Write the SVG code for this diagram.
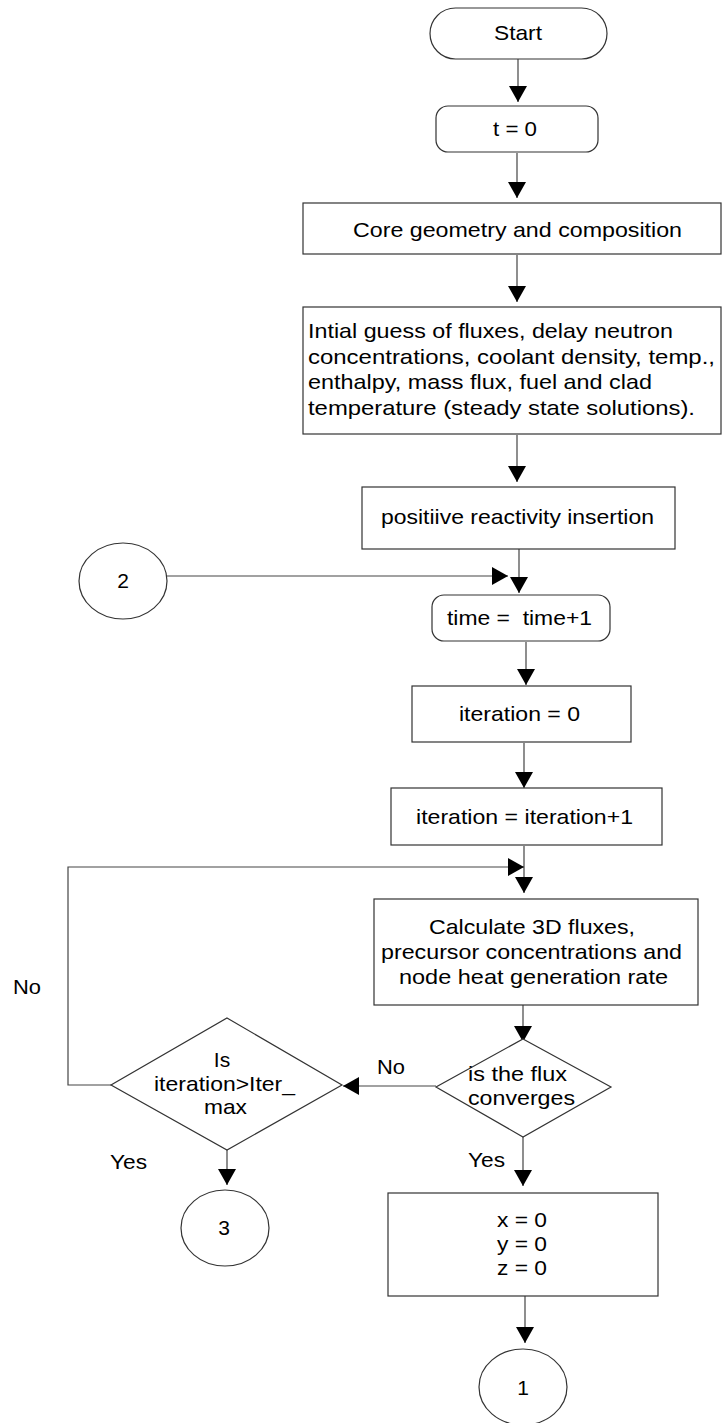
<svg xmlns="http://www.w3.org/2000/svg" width="722" height="1423" viewBox="0 0 722 1423">
<defs>
<marker id="ah" viewBox="0 0 16 18" refX="16" refY="9" markerWidth="16" markerHeight="18" orient="auto" markerUnits="userSpaceOnUse"><path d="M0,0 L16,9 L0,18 z" fill="#000"/></marker>
</defs>
<style>
.box{fill:#fff;stroke:#333;stroke-width:1.2}
.c{fill:none;stroke:#444;stroke-width:1.2;marker-end:url(#ah)}
text{font-family:"Liberation Sans",Arial,sans-serif;font-size:21px;fill:#000}
.m{text-anchor:middle}
</style>
<rect width="722" height="1423" fill="#fff"/>
<g id="connectors">
<path class="c" d="M518,59 L518,102"/>
<path class="c" d="M517,153 L517,198"/>
<path class="c" d="M517,255 L517,302"/>
<path class="c" d="M517,435 L517,482"/>
<path class="c" d="M519,549 L519,593"/>
<path class="c" d="M167,576 L508,576"/>
<path class="c" d="M526,642 L526,685"/>
<path class="c" d="M524,743 L524,788"/>
<path class="c" d="M524,846 L524,893"/>
<path class="c" d="M111,1085 L68,1085 L68,867 L524,867"/>
<path class="c" d="M523,1005 L523,1042"/>
<path class="c" d="M436,1086 L343,1086"/>
<path class="c" d="M523,1137 L523,1186"/>
<path class="c" d="M227,1150 L227,1185"/>
<path class="c" d="M525,1296 L525,1343"/>
</g>
<g id="start"><rect class="box" x="430" y="8" width="177" height="51" rx="25.5"/><text class="m" x="518" y="40" textLength="48" lengthAdjust="spacingAndGlyphs">Start</text></g>
<g id="t0"><rect class="box" x="436" y="106" width="162" height="46" rx="12"/><text class="m" x="515" y="136" textLength="44" lengthAdjust="spacingAndGlyphs">t = 0</text></g>
<g id="core"><rect class="box" x="303" y="203" width="418" height="51"/><text class="m" x="517.5" y="237" textLength="329" lengthAdjust="spacingAndGlyphs">Core geometry and composition</text></g>
<g id="init"><rect class="box" x="303" y="307" width="418" height="127"/>
<text x="308" y="338" textLength="365" lengthAdjust="spacingAndGlyphs">Intial guess of fluxes, delay neutron</text>
<text x="308" y="364" textLength="407" lengthAdjust="spacingAndGlyphs">concentrations, coolant density, temp.,</text>
<text x="308" y="389" textLength="344" lengthAdjust="spacingAndGlyphs">enthalpy, mass flux, fuel and clad</text>
<text x="308" y="415" textLength="387" lengthAdjust="spacingAndGlyphs">temperature (steady state solutions).</text></g>
<g id="positive"><rect class="box" x="362" y="487" width="313" height="62"/><text class="m" x="517.5" y="524" textLength="273" lengthAdjust="spacingAndGlyphs">positiive reactivity insertion</text></g>
<g id="conn2"><ellipse class="box" cx="123" cy="581" rx="44" ry="38"/><text class="m" x="123" y="588">2</text></g>
<g id="time"><rect class="box" x="432" y="595" width="178" height="46" rx="12"/><text class="m" x="519.5" y="625" textLength="145" lengthAdjust="spacingAndGlyphs" xml:space="preserve">time =  time+1</text></g>
<g id="iter0"><rect class="box" x="412" y="686" width="219" height="56"/><text class="m" x="519.5" y="721" textLength="121" lengthAdjust="spacingAndGlyphs">iteration = 0</text></g>
<g id="iter1"><rect class="box" x="391" y="788" width="271" height="57"/><text class="m" x="524.5" y="824" textLength="217" lengthAdjust="spacingAndGlyphs">iteration = iteration+1</text></g>
<g id="calc"><rect class="box" x="374" y="899" width="324" height="106"/>
<text class="m" x="532" y="934" textLength="206" lengthAdjust="spacingAndGlyphs">Calculate 3D fluxes,</text>
<text class="m" x="531.5" y="959" textLength="301" lengthAdjust="spacingAndGlyphs">precursor concentrations and</text>
<text class="m" x="533.5" y="984" textLength="269" lengthAdjust="spacingAndGlyphs">node heat generation rate</text></g>
<g id="fluxdec"><polygon class="box" points="523,1039 611,1087 523,1137 436,1087"/>
<text class="m" x="517.5" y="1081" textLength="99" lengthAdjust="spacingAndGlyphs">is the flux</text>
<text class="m" x="521.5" y="1105" textLength="107" lengthAdjust="spacingAndGlyphs">converges</text></g>
<g id="iterdec"><polygon class="box" points="227,1018 342,1085 227,1150 111,1085"/>
<text class="m" x="222" y="1067">Is</text>
<text class="m" x="224.5" y="1091" textLength="141" lengthAdjust="spacingAndGlyphs">iteration&gt;Iter_</text>
<text class="m" x="225.5" y="1114" textLength="43" lengthAdjust="spacingAndGlyphs">max</text></g>
<g id="conn3"><ellipse class="box" cx="225" cy="1228" rx="44" ry="38"/><text class="m" x="224" y="1235">3</text></g>
<g id="xyz"><rect class="box" x="388" y="1193" width="270" height="103"/>
<text class="m" x="522" y="1227" textLength="50" lengthAdjust="spacingAndGlyphs">x = 0</text>
<text class="m" x="522" y="1251" textLength="50" lengthAdjust="spacingAndGlyphs">y = 0</text>
<text class="m" x="522" y="1275" textLength="50" lengthAdjust="spacingAndGlyphs">z = 0</text></g>
<g id="conn1"><ellipse class="box" cx="523" cy="1387" rx="44" ry="38"/><text class="m" x="523" y="1395">1</text></g>
<g id="labels">
<text x="377" y="1074" textLength="28" lengthAdjust="spacingAndGlyphs">No</text>
<text x="13" y="994" textLength="28" lengthAdjust="spacingAndGlyphs">No</text>
<text x="110" y="1169" textLength="37" lengthAdjust="spacingAndGlyphs">Yes</text>
<text x="468" y="1167" textLength="37" lengthAdjust="spacingAndGlyphs">Yes</text>
</g>
</svg>
